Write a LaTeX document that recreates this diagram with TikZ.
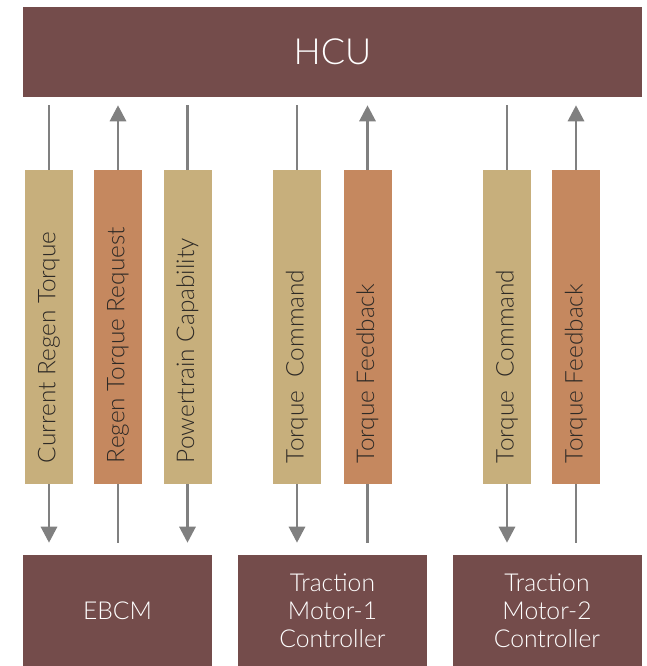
\documentclass[tikz,border=0pt]{standalone}
\usepackage{fontspec}
\setmainfont{Lato Light}
\usepackage{xcolor}
\usepackage{tikz}
\usetikzlibrary{arrows.meta, positioning, calc}

\definecolor{ecuBrown}{HTML}{744C4B}
\definecolor{sigTan}{HTML}{C7AF7C}
\definecolor{sigOrange}{HTML}{C5885F}
\definecolor{wireGray}{HTML}{808080}
\definecolor{labelInk}{HTML}{2E2A26}

\begin{document}
\begin{tikzpicture}[
  x=0.75pt, y=-0.75pt,
  ecu/.style={fill=ecuBrown, text=white, inner sep=0pt, align=center,
              font=\fontsize{18.5}{21}\selectfont},
  sig/.style={inner sep=0pt, minimum width=36pt, minimum height=235.5pt},
  sigtext/.style={rotate=90, anchor=west, inner sep=0pt, text=labelInk,
                  font=\fontsize{18.3}{20}\selectfont},
  wire/.style={draw=wireGray, line width=2.2pt},
  down/.style={wire, -{Triangle[width=12pt, length=12pt]}, shorten >=9pt},
  up/.style={wire, -{Triangle[width=12pt, length=12pt]}, shorten >=6pt},
]
  \useasboundingbox (0,0) rectangle (646,666);

  % ── Top: HCU ──
  \node[ecu, minimum width=464.25pt, minimum height=67.5pt,
        font=\fontsize{27}{30}\selectfont] (hcu) at (332.5, 52) {HCU};

  % ── Middle: signal bars ──
  \node[sig, fill=sigTan]    (crt) at ( 49.0, 327) {};
  \node[sig, fill=sigOrange] (rtr) at (118.0, 327) {};
  \node[sig, fill=sigTan]    (pwc) at (187.5, 327) {};
  \node[sig, fill=sigTan]    (tc1) at (297.0, 327) {};
  \node[sig, fill=sigOrange] (tf1) at (367.5, 327) {};
  \node[sig, fill=sigTan]    (tc2) at (507.0, 327) {};
  \node[sig, fill=sigOrange] (tf2) at (576.0, 327) {};

  \node[sigtext] (crtl) at ([yshift=15.75pt]crt.south) {Current Regen Torque};
  \node[sigtext] (rtrl) at ([yshift=15.75pt]rtr.south) {Regen Torque Request};
  \node[sigtext] (pwcl) at ([yshift=15.75pt]pwc.south) {Powertrain Capability};
  \node[sigtext] (tc1l) at ([yshift=15.75pt]tc1.south) {Torque\ \ Command};
  \node[sigtext] (tf1l) at ([yshift=15.75pt]tf1.south) {Torque Feedback};
  \node[sigtext] (tc2l) at ([yshift=15.75pt]tc2.south) {Torque\ \ Command};
  \node[sigtext] (tf2l) at ([yshift=15.75pt]tf2.south) {Torque Feedback};

  % ── Bottom: controllers ──
  \node[ecu, minimum width=141.75pt, minimum height=83.25pt] (ebcm) at (117.5, 610.5) {EBCM};
  \node[ecu, minimum width=141.75pt, minimum height=83.25pt] (tm1)  at (332.5, 610.5)
    {Traction\\Motor-1\\Controller};
  \node[ecu, minimum width=141.75pt, minimum height=83.25pt] (tm2)  at (547.0, 610.5)
    {Traction\\Motor-2\\Controller};

  % ══ Wires ══

  % HCU side
  \draw[wire, shorten >=6pt] (crt.north) -- (crt.north |- hcu.south);
  \draw[up]                  (rtr.north) -- (rtr.north |- hcu.south);
  \draw[wire, shorten >=6pt] (pwc.north) -- (pwc.north |- hcu.south);
  \draw[wire, shorten >=6pt] (tc1.north) -- (tc1.north |- hcu.south);
  \draw[up]                  (tf1.north) -- (tf1.north |- hcu.south);
  \draw[wire, shorten >=6pt] (tc2.north) -- (tc2.north |- hcu.south);
  \draw[up]                  (tf2.north) -- (tf2.north |- hcu.south);

  % controller side
  \draw[down]                (crt.south) -- (crt.south |- ebcm.north);
  \draw[wire, shorten >=9pt] (rtr.south) -- (rtr.south |- ebcm.north);
  \draw[down]                (pwc.south) -- (pwc.south |- ebcm.north);
  \draw[down]                (tc1.south) -- (tc1.south |- tm1.north);
  \draw[wire, shorten >=9pt] (tf1.south) -- (tf1.south |- tm1.north);
  \draw[down]                (tc2.south) -- (tc2.south |- tm2.north);
  \draw[wire, shorten >=9pt] (tf2.south) -- (tf2.south |- tm2.north);

\end{tikzpicture}
\end{document}
